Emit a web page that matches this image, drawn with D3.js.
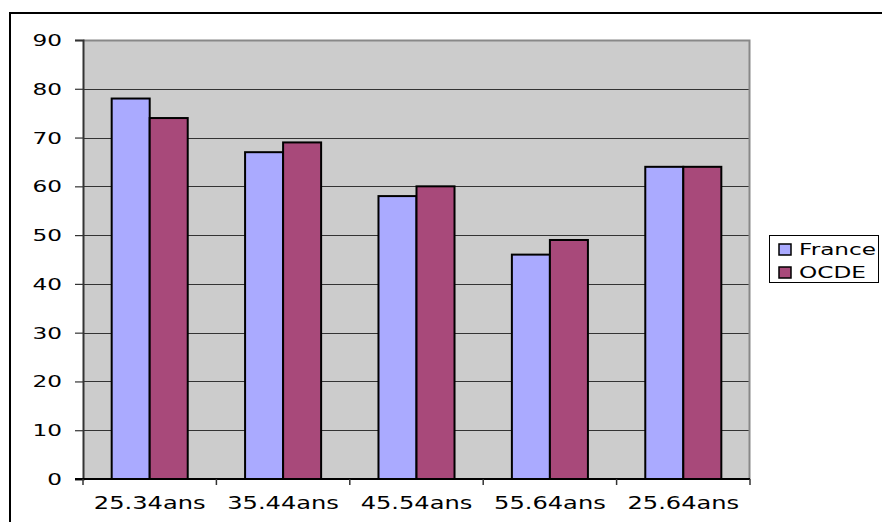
<!DOCTYPE html>
<html>
<head>
<meta charset="utf-8">
<script src="https://cdn.jsdelivr.net/npm/d3@7"></script>
<style>
  html, body { margin: 0; padding: 0; background: #fff; }
  svg { display: block; }
  text { font-family: "DejaVu Sans", Verdana, sans-serif; fill: #000; }
</style>
</head>
<body>
<svg id="chart" width="882" height="522"></svg>
<script>
// Age groups and employment rates (%)
const categories = ["25.34ans", "35.44ans", "45.54ans", "55.64ans", "25.64ans"];
const seriesNames = ["France", "OCDE"];
const franceValues = [78, 67, 58, 46, 64];
const ocdeValues = [74, 69, 60, 49, 64];
const yTicks = [0, 10, 20, 30, 40, 50, 60, 70, 80, 90];

const colors = { France: "#AAAAFF", OCDE: "#A8497A" };
const rows = categories.map((c, i) => ({ cat: c, France: franceValues[i], OCDE: ocdeValues[i] }));

const svg = d3.select("#chart");
const plot = { left: 83, right: 750, top: 40, bottom: 479 };

// helper: horizontally stretched text anchored at (x, y)
function stretchedText(sel, x, y, str, anchor, size = 16, sx = 1.45) {
  return sel.append("text")
    .attr("transform", `translate(${x},${y}) scale(${sx},1)`)
    .attr("text-anchor", anchor)
    .attr("font-size", size)
    .text(str);
}

// outer frame
svg.append("rect")
  .attr("x", 10).attr("y", 13)
  .attr("width", 900).attr("height", 520)
  .attr("fill", "none").attr("stroke", "#000").attr("stroke-width", 2);

const x0 = d3.scaleBand().domain(categories)
  .range([plot.left, plot.right])
  .paddingInner(0.43).paddingOuter(0.215);
const x1 = d3.scaleBand().domain(seriesNames).range([0, x0.bandwidth()]);
const y = d3.scaleLinear().domain([0, 90]).range([plot.bottom, plot.top]);

// plot background
svg.append("rect")
  .attr("x", plot.left).attr("y", plot.top)
  .attr("width", plot.right - plot.left).attr("height", plot.bottom - plot.top)
  .attr("fill", "#CCCCCC");

// horizontal gridlines
svg.append("g").selectAll("line")
  .data(yTicks.filter(t => t > 0 && t < 90))
  .join("line")
  .attr("x1", plot.left).attr("x2", plot.right)
  .attr("y1", d => Math.round(y(d)) + 0.5).attr("y2", d => Math.round(y(d)) + 0.5)
  .attr("stroke", "#333").attr("stroke-width", 1.2);

// plot border (top and right)
svg.append("path")
  .attr("d", `M${plot.left},${plot.top + 0.5}H${plot.right - 0.5}V${plot.bottom}`)
  .attr("fill", "none").attr("stroke", "#888").attr("stroke-width", 2);

// bars
const groups = svg.append("g").selectAll("g")
  .data(rows).join("g")
  .attr("transform", d => `translate(${x0(d.cat)},0)`);
groups.selectAll("rect")
  .data(d => seriesNames.map(s => ({ s, v: d[s] })))
  .join("rect")
  .attr("x", d => x1(d.s))
  .attr("y", d => y(d.v))
  .attr("width", x1.bandwidth())
  .attr("height", d => plot.bottom - y(d.v))
  .attr("fill", d => colors[d.s])
  .attr("stroke", "#000").attr("stroke-width", 2);

// y axis
const yAxis = svg.append("g").attr("transform", `translate(${plot.left},0)`)
  .call(d3.axisLeft(y).tickValues(yTicks).tickSize(8).tickFormat(""));
yAxis.select(".domain").attr("stroke", "#333").attr("stroke-width", 2);
yAxis.selectAll(".tick line").attr("stroke", "#333").attr("stroke-width", 1.2);
yTicks.forEach(t => stretchedText(svg, 62, y(t) + 6, String(t), "end"));

// x axis
const xAxis = svg.append("g").attr("transform", `translate(0,${plot.bottom})`);
xAxis.append("line")
  .attr("x1", plot.left - 8).attr("x2", plot.right)
  .attr("stroke", "#000").attr("stroke-width", 2);
const boundaries = categories.map((c, i) => plot.left + i * x0.step());
boundaries.push(plot.right);
xAxis.selectAll("line.tick").data(boundaries).join("line")
  .attr("class", "tick")
  .attr("x1", d => d).attr("x2", d => d)
  .attr("y1", 0).attr("y2", 6)
  .attr("stroke", "#333").attr("stroke-width", 1.5);
categories.forEach(c => stretchedText(svg, x0(c) + x0.bandwidth() / 2, 509, c, "middle", 17, 1.42));

// legend
const legend = svg.append("g");
legend.append("rect")
  .attr("x", 769.5).attr("y", 235.5).attr("width", 109).attr("height", 47)
  .attr("fill", "#fff").attr("stroke", "#000").attr("stroke-width", 1);
seriesNames.forEach((s, i) => {
  const cy = 249 + i * 23;
  legend.append("rect")
    .attr("x", 779).attr("y", cy - 5).attr("width", 12).attr("height", 11)
    .attr("fill", colors[s]).attr("stroke", "#000").attr("stroke-width", 1.5);
  stretchedText(legend, 799, cy + 6, s, "start");
});
</script>
</body>
</html>
